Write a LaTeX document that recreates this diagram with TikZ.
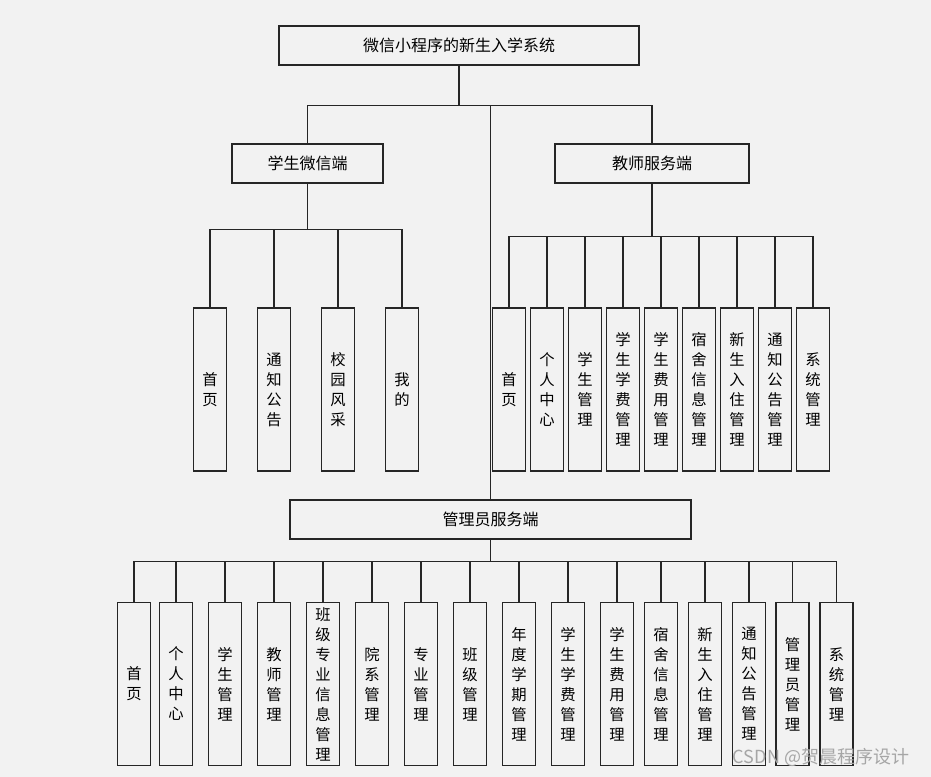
\documentclass[tikz,border=0pt]{standalone}
\usepackage{fontspec}
\setmainfont{Noto Sans CJK SC}
\usepackage{xcolor}
\usetikzlibrary{positioning}
\definecolor{bggray}{HTML}{F2F2F2}
\definecolor{edge}{HTML}{262626}
\tikzstyle{sysbox} = [rectangle, minimum width=270pt, minimum height=29.25pt, text centered, draw=edge, fill=bggray, line width=0.8pt, font=\fontsize{12}{14}\selectfont]
\tikzstyle{endbox} = [rectangle, minimum height=29.25pt, text centered, draw=edge, fill=bggray, line width=0.8pt, font=\fontsize{12}{14}\selectfont]
\tikzstyle{leaf} = [rectangle, minimum width=24.75pt, minimum height=122.25pt, inner sep=1pt, align=center, draw=edge, fill=bggray, line width=0.8pt, font=\fontsize{11.5}{15}\selectfont]
\tikzstyle{link} = [draw=edge, line width=1pt]

\begin{document}
\begin{tikzpicture}[x=0.75pt, y=-0.75pt]
    \fill[bggray] (0,0) rectangle (931,777);
    \node (sys) [sysbox] at (459,45.5) {微信小程序的新生入学系统};
    \node (stu) [endbox, minimum width=113.25pt] at (307.5,163.5) {学生微信端};
    \node (tea) [endbox, minimum width=145.5pt] at (652,163.5) {教师服务端};
    \node (adm) [endbox, minimum width=300.75pt] at (490.5,519.5) {管理员服务端};
    \draw [link] (sys.south) -- ++(0,40) -| (stu.north);
    \draw [link] (sys.south) -- ++(0,40) -| (tea.north);
    \draw [link] (sys.south) -- ++(0,40) -| (adm.north);
    % student side
    \node (s1) [leaf] at (210,389.5) {首\\页};
    \node (s2) [leaf] at (274,389.5) {通\\知\\公\\告};
    \node (s3) [leaf] at (338,389.5) {校\\园\\风\\采};
    \node (s4) [leaf] at (402,389.5) {我\\的};
    \draw [link] (stu.south) -- ++(0,46) -| (s1.north);
    \draw [link] (stu.south) -- ++(0,46) -| (s2.north);
    \draw [link] (stu.south) -- ++(0,46) -| (s3.north);
    \draw [link] (stu.south) -- ++(0,46) -| (s4.north);
    % teacher side
    \node (t1) [leaf] at (509,389.5) {首\\页};
    \node (t2) [leaf] at (547,389.5) {个\\人\\中\\心};
    \node (t3) [leaf] at (585,389.5) {学\\生\\管\\理};
    \node (t4) [leaf] at (623,389.5) {学\\生\\学\\费\\管\\理};
    \node (t5) [leaf] at (661,389.5) {学\\生\\费\\用\\管\\理};
    \node (t6) [leaf] at (699,389.5) {宿\\舍\\信\\息\\管\\理};
    \node (t7) [leaf] at (737,389.5) {新\\生\\入\\住\\管\\理};
    \node (t8) [leaf] at (775,389.5) {通\\知\\公\\告\\管\\理};
    \node (t9) [leaf] at (813,389.5) {系\\统\\管\\理};
    \draw [link] (tea.south) -- ++(0,53) -| (t1.north);
    \draw [link] (tea.south) -- ++(0,53) -| (t2.north);
    \draw [link] (tea.south) -- ++(0,53) -| (t3.north);
    \draw [link] (tea.south) -- ++(0,53) -| (t4.north);
    \draw [link] (tea.south) -- ++(0,53) -| (t5.north);
    \draw [link] (tea.south) -- ++(0,53) -| (t6.north);
    \draw [link] (tea.south) -- ++(0,53) -| (t7.north);
    \draw [link] (tea.south) -- ++(0,53) -| (t8.north);
    \draw [link] (tea.south) -- ++(0,53) -| (t9.north);
    % admin side
    \node (a1) [leaf] at (134,684) {首\\页};
    \node (a2) [leaf] at (176,684) {个\\人\\中\\心};
    \node (a3) [leaf] at (225,684) {学\\生\\管\\理};
    \node (a4) [leaf] at (274,684) {教\\师\\管\\理};
    \node (a5) [leaf] at (323,684) {班\\级\\专\\业\\信\\息\\管\\理};
    \node (a6) [leaf] at (372,684) {院\\系\\管\\理};
    \node (a7) [leaf] at (421,684) {专\\业\\管\\理};
    \node (a8) [leaf] at (470,684) {班\\级\\管\\理};
    \node (a9) [leaf] at (519,684) {年\\度\\学\\期\\管\\理};
    \node (a10) [leaf] at (568,684) {学\\生\\学\\费\\管\\理};
    \node (a11) [leaf] at (617,684) {学\\生\\费\\用\\管\\理};
    \node (a12) [leaf] at (661,684) {宿\\舍\\信\\息\\管\\理};
    \node (a13) [leaf] at (705,684) {新\\生\\入\\住\\管\\理};
    \node (a14) [leaf] at (749,684) {通\\知\\公\\告\\管\\理};
    \node (a15) [leaf] at (792.5,684) {管\\理\\员\\管\\理};
    \node (a16) [leaf] at (836.5,684) {系\\统\\管\\理};
    \draw [link] (adm.south) -- ++(0,22) -| (a1.north);
    \draw [link] (adm.south) -- ++(0,22) -| (a2.north);
    \draw [link] (adm.south) -- ++(0,22) -| (a3.north);
    \draw [link] (adm.south) -- ++(0,22) -| (a4.north);
    \draw [link] (adm.south) -- ++(0,22) -| (a5.north);
    \draw [link] (adm.south) -- ++(0,22) -| (a6.north);
    \draw [link] (adm.south) -- ++(0,22) -| (a7.north);
    \draw [link] (adm.south) -- ++(0,22) -| (a8.north);
    \draw [link] (adm.south) -- ++(0,22) -| (a9.north);
    \draw [link] (adm.south) -- ++(0,22) -| (a10.north);
    \draw [link] (adm.south) -- ++(0,22) -| (a11.north);
    \draw [link] (adm.south) -- ++(0,22) -| (a12.north);
    \draw [link] (adm.south) -- ++(0,22) -| (a13.north);
    \draw [link] (adm.south) -- ++(0,22) -| (a14.north);
    \draw [link] (adm.south) -- ++(0,22) -| (a15.north);
    \draw [link] (adm.south) -- ++(0,22) -| (a16.north);
    \node (wm) [text=black!35, font=\fontsize{13.5}{16}\selectfont] at (821,757) {CSDN @贺晨程序设计};

\end{tikzpicture}
\end{document}
